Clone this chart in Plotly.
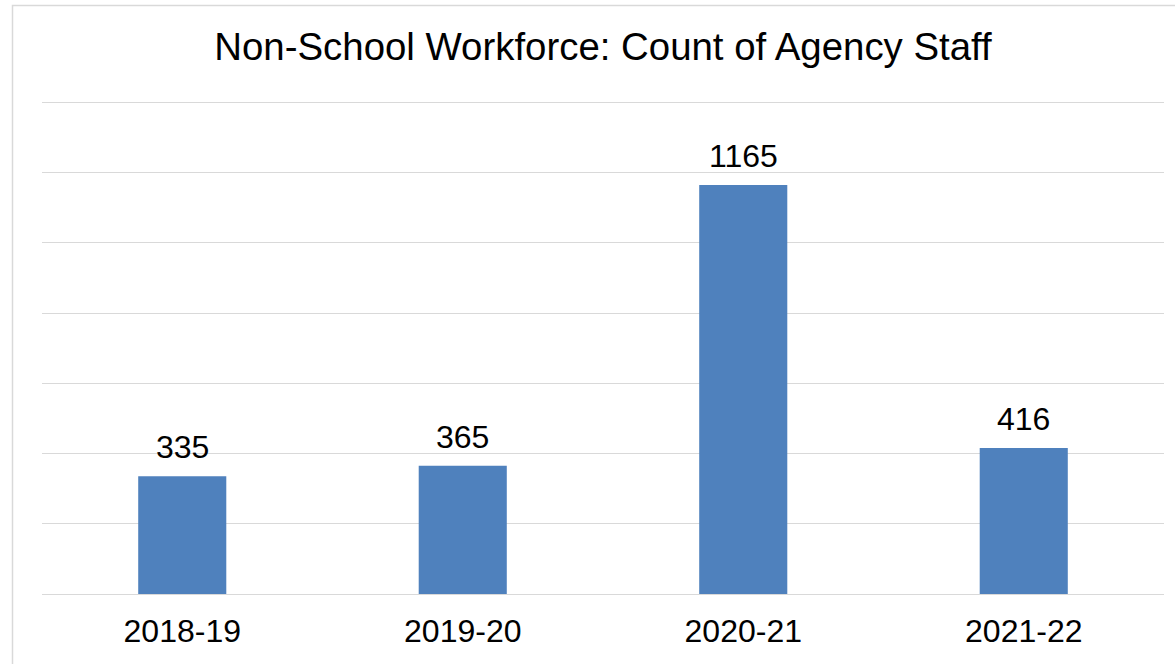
import plotly.graph_objects as go

categories = ["2018-19", "2019-20", "2020-21", "2021-22"]
values = [335, 365, 1165, 416]
grid_values = [0, 200, 400, 600, 800, 1000, 1200, 1400]
title_text = "Non-School Workforce: Count of Agency Staff"

FONT = "Liberation Sans, Arial, sans-serif"
W, H = 1175, 664
L, R, T, B = 42, 11, 102, 70
pw, ph = W - L - R, H - T - B

fig = go.Figure()
fig.add_trace(go.Bar(
    x=categories, y=values,
    marker=dict(color="#4f81bd", line=dict(width=0)),
    hoverinfo="x+y",
))

for c, v in zip(categories, values):
    fig.add_annotation(x=c, y=v, text=str(v), showarrow=False,
                       yanchor="bottom", yshift=9,
                       font=dict(family=FONT, size=32, color="#000000"))

# top gridline (edge of range)
fig.add_shape(type="line", xref="paper", yref="y", x0=0, x1=1,
              y0=grid_values[-1], y1=grid_values[-1],
              line=dict(color="#d9d9d9", width=1.3), layer="below")

# outer chart border (cropped at right and bottom)
fig.add_shape(type="rect", xref="paper", yref="paper",
              x0=(12.5 - L) / pw, x1=(1185 - L) / pw,
              y0=(H - B - 680) / ph, y1=(H - B - 5.5) / ph,
              line=dict(color="#d9d9d9", width=1.5), fillcolor="rgba(0,0,0,0)",
              layer="below")

fig.update_layout(
    width=W, height=H,
    margin=dict(l=L, r=R, t=T, b=B, pad=0),
    paper_bgcolor="white", plot_bgcolor="white",
    bargap=0.686,
    showlegend=False,
    title=dict(text=title_text, x=0.5, xref="paper", xanchor="center",
               y=1 - 47 / H, yref="container", yanchor="middle",
               font=dict(family=FONT, size=38.4, color="#000000")),
    xaxis=dict(showgrid=False, showline=False, ticks="", zeroline=False,
               tickfont=dict(family=FONT, size=32, color="#000000"),
               ticklabelstandoff=15),
    yaxis=dict(range=[0, 1401], tickvals=grid_values,
               showgrid=True, gridcolor="#d9d9d9",
               gridwidth=1.3, showticklabels=False, zeroline=True,
               zerolinecolor="#d9d9d9", zerolinewidth=1.3, showline=False,
               ticks=""),
)

fig.write_html("out.html", config={"displayModeBar": False},
               post_script="document.body.style.margin='0';document.body.style.padding='0';")
